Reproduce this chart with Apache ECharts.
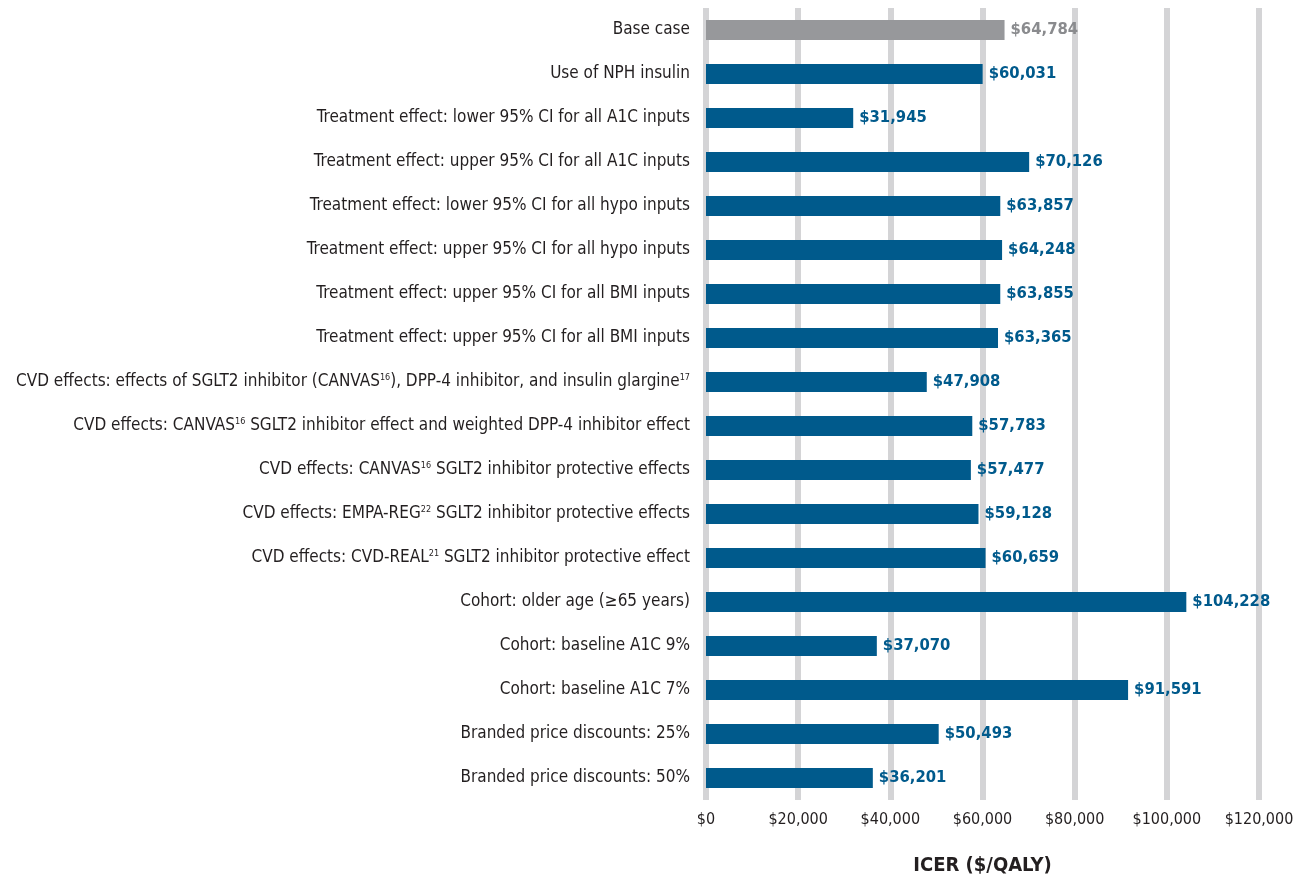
<!DOCTYPE html>
<html><head><meta charset="utf-8">
<script src="https://cdn.jsdelivr.net/npm/echarts@6/dist/echarts.min.js"></script>
<style>html,body{margin:0;padding:0;background:#fff}#c{width:1305px;height:881px}</style>
</head><body><div id="c"></div>
<script>
const categories = [
  "Base case",
  "Use of NPH insulin",
  "Treatment effect: lower 95% CI for all A1C inputs",
  "Treatment effect: upper 95% CI for all A1C inputs",
  "Treatment effect: lower 95% CI for all hypo inputs",
  "Treatment effect: upper 95% CI for all hypo inputs",
  "Treatment effect: upper 95% CI for all BMI inputs",
  "Treatment effect: upper 95% CI for all BMI inputs",
  "CVD effects: effects of SGLT2 inhibitor (CANVAS^16), DPP-4 inhibitor, and insulin glargine^17",
  "CVD effects: CANVAS^16 SGLT2 inhibitor effect and weighted DPP-4 inhibitor effect",
  "CVD effects: CANVAS^16 SGLT2 inhibitor protective effects",
  "CVD effects: EMPA-REG^22 SGLT2 inhibitor protective effects",
  "CVD effects: CVD-REAL^21 SGLT2 inhibitor protective effect",
  "Cohort: older age (≥65 years)",
  "Cohort: baseline A1C 9%",
  "Cohort: baseline A1C 7%",
  "Branded price discounts: 25%",
  "Branded price discounts: 50%"
];
const icerValues = [64784, 60031, 31945, 70126, 63857, 64248, 63855, 63365, 47908, 57783, 57477, 59128, 60659, 104228, 37070, 91591, 50493, 36201];
const tickValues = [0, 20000, 40000, 60000, 80000, 100000, 120000];

const FONT = '"Liberation Sans Narrow","DejaVu Sans Condensed","Roboto",sans-serif';
const BLUE = '#005a8c', GRAY = '#97989b';
const fmt = v => '$' + v.toLocaleString('en-US');

const chart = echarts.init(document.getElementById('c'));
chart.setOption({
  animation: false,
  grid: { left: 706, right: 46, top: 8, bottom: 77, containLabel: false },
  xAxis: {
    type: 'value', min: 0, max: 120000, interval: 20000,
    name: 'ICER ($/QALY)', nameLocation: 'middle', nameGap: 56,
    nameTextStyle: { fontFamily: FONT, fontWeight: 'bold', fontSize: 20, color: '#231f20' },
    axisLine: { show: false }, axisTick: { show: false },
    axisLabel: { formatter: v => fmt(v), fontFamily: FONT, fontSize: 16, color: '#231f20', margin: 12 },
    splitLine: { show: true, lineStyle: { color: '#d4d4d6', width: 6 } }
  },
  yAxis: {
    type: 'category', data: categories, inverse: true,
    axisLine: { show: false }, axisTick: { show: false },
    axisLabel: {
      margin: 16, fontFamily: FONT, fontSize: 17, color: '#231f20',
      formatter: s => s.split(/\^(\d+)/).map((p, i) => i % 2 ? '{sup|' + p + '}' : (p ? '{t|' + p + '}' : '')).join(''),
      rich: {
        t: { fontFamily: FONT, fontSize: 17, color: '#231f20' },
        sup: { fontFamily: FONT, fontSize: 9, color: '#231f20', verticalAlign: 'top', padding: [0, 0, 8, 0] }
      }
    }
  },
  series: [{
    type: 'bar', barWidth: 20,
    data: icerValues.map((v, i) => ({ value: v, itemStyle: { color: i === 0 ? GRAY : BLUE },
      label: { color: i === 0 ? '#8a8b8e' : BLUE } })),
    label: { show: true, position: 'right', distance: 6, formatter: p => fmt(p.value),
      fontFamily: FONT, fontWeight: 'bold', fontSize: 16.5 }
  }]
});
</script></body></html>
